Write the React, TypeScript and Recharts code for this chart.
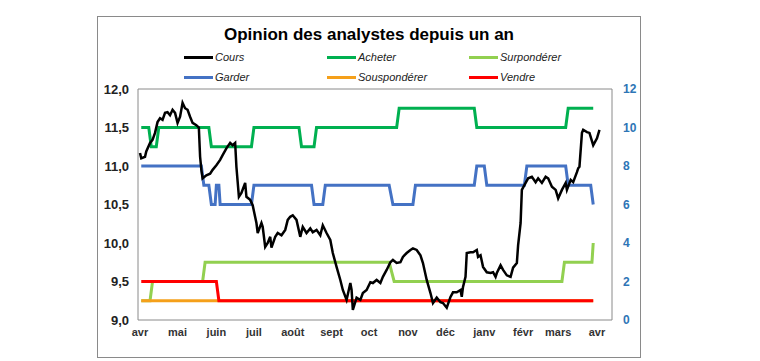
import React from 'react';
import { ComposedChart, Line, XAxis, YAxis, ReferenceArea } from 'recharts';

// day offsets from the first "avr" tick
const monthTicks = [0, 30, 61, 91, 122, 153, 183, 214, 244, 275, 306, 334, 365];
const monthLabels = ['avr', 'mai', 'juin', 'juil', 'août', 'sept', 'oct', 'nov', 'déc', 'janv', 'févr', 'mars', 'avr'];

const priceTicks = [9, 9.5, 10, 10.5, 11, 11.5, 12];
const countTicks = [0, 2, 4, 6, 8, 10, 12];

// Cours : [day, price]
const cours: [number, number][] = [
  [0, 11.17], [1, 11.1], [4, 11.12], [5, 11.19], [8, 11.3], [10, 11.34], [12, 11.43], [14, 11.57],
  [16, 11.62], [18, 11.6], [20, 11.69], [22, 11.7], [24, 11.66], [26, 11.73], [28, 11.69], [30, 11.56],
  [32, 11.64], [34, 11.82], [36, 11.75], [38, 11.73], [40, 11.64], [42, 11.56], [45, 11.53], [47, 11.5],
  [48, 11.12], [49, 10.95], [50, 10.84], [53, 10.88], [56, 10.9], [58, 10.95], [61, 11.01], [64, 11.08],
  [66, 11.14], [69, 11.23], [72, 11.3], [74, 11.27], [76, 11.3], [77, 10.99], [79, 10.6], [81, 10.65],
  [84, 10.78], [85, 10.6], [88, 10.56], [90, 10.49], [93, 10.26], [94, 10.13], [97, 10.26], [98, 10.21],
  [100, 9.95], [102, 10.0], [104, 10.08], [105, 9.94], [108, 10.08], [110, 10.13], [113, 10.1], [116, 10.17],
  [118, 10.3], [120, 10.34], [122, 10.36], [125, 10.3], [128, 10.08], [130, 10.21], [133, 10.13], [136, 10.19],
  [138, 10.14], [141, 10.17], [144, 10.1], [146, 10.23], [149, 10.13], [152, 10.04], [154, 9.87], [157, 9.69],
  [160, 9.52], [162, 9.39], [165, 9.26], [168, 9.48], [169, 9.39], [170, 9.13], [173, 9.29], [176, 9.26],
  [178, 9.35], [181, 9.39], [184, 9.49], [186, 9.48], [189, 9.52], [192, 9.48], [194, 9.56], [197, 9.65],
  [200, 9.75], [202, 9.78], [205, 9.74], [208, 9.75], [210, 9.82], [213, 9.87], [216, 9.91], [218, 9.93],
  [221, 9.91], [224, 9.84], [226, 9.74], [229, 9.52], [232, 9.35], [234, 9.22], [237, 9.29], [240, 9.23],
  [242, 9.22], [245, 9.16], [248, 9.3], [250, 9.36], [253, 9.36], [256, 9.39], [257, 9.3], [258, 9.43],
  [260, 9.56], [261, 9.87], [264, 9.88], [266, 9.88], [269, 9.91], [270, 9.82], [272, 9.84], [274, 9.69],
  [277, 9.62], [280, 9.61], [282, 9.62], [284, 9.56], [285, 9.61], [288, 9.71], [290, 9.65], [293, 9.58],
  [296, 9.56], [298, 9.68], [301, 9.74], [302, 9.97], [304, 10.26], [305, 10.69], [308, 10.78], [310, 10.84],
  [313, 10.86], [316, 10.79], [318, 10.84], [321, 10.78], [324, 10.86], [326, 10.84], [329, 10.73], [332, 10.69],
  [334, 10.58], [337, 10.69], [340, 10.78], [341, 10.69], [344, 10.82], [346, 10.79], [349, 10.92], [350, 10.97],
  [351, 10.99], [353, 11.43], [354, 11.47], [357, 11.44], [359, 11.43], [362, 11.27], [365, 11.36], [367, 11.47],
];

// analyst counts : [day, count]
const acheter: [number, number][] = [
  [1, 10], [7, 10], [9, 9], [13, 9], [15, 10], [55, 10], [57, 9], [89, 9], [91, 10], [127, 10], [129, 9],
  [139, 9], [141, 10], [205, 10], [207, 11], [267, 11], [269, 10], [340, 10], [342, 11], [362, 11],
];
const surponderer: [number, number][] = [
  [1, 1], [8, 1], [10, 2], [50, 2], [52, 3], [199, 3], [203, 2], [337, 2], [339, 3], [361, 3], [362, 4],
];
const garder: [number, number][] = [
  [1, 8], [49, 8], [51, 7], [55, 7], [57, 6], [60, 6], [61, 7], [63, 7], [64, 6], [89, 6], [91, 7],
  [137, 7], [139, 6], [146, 6], [148, 7], [199, 7], [202, 6], [218, 6], [220, 7], [267, 7], [269, 8],
  [275, 8], [277, 7], [307, 7], [309, 8], [340, 8], [342, 7], [360, 7], [362, 6],
];
const sousponderer: [number, number][] = [[1, 1], [362, 1]];
const vendre: [number, number][] = [[1, 2], [61, 2], [63, 1], [362, 1]];

const toRows = (pts: [number, number][]) => pts.map(([d, v]) => ({ d, v }));

const xDomain: [number, number] = [-1.6, 377];

const legendItems = [
  { name: 'Cours', color: '#000000' },
  { name: 'Acheter', color: '#00B050' },
  { name: 'Surpondérer', color: '#92D050' },
  { name: 'Garder', color: '#4472C4' },
  { name: 'Souspondérer', color: '#F5A01A' },
  { name: 'Vendre', color: '#FF0000' },
];

const font = '"Liberation Sans", Arial, sans-serif';

export default function App() {
  return (
    <div style={{ position: 'absolute', left: 0, top: 0, width: 760, height: 361, background: '#fff', fontFamily: font }}>
      <div style={{ position: 'absolute', left: 97, top: 16, width: 542, height: 340, border: '1px solid #8a8a8a' }} />
      <div style={{ position: 'absolute', left: 97, top: 25, width: 544, textAlign: 'center', fontWeight: 'bold', fontSize: 17, color: '#000' }}>
        Opinion des analystes depuis un an
      </div>
      <div style={{ position: 'absolute', left: 184, top: 49, display: 'grid', gridTemplateColumns: '143px 142px 142px', rowGap: 4 }}>
        {legendItems.map((it) => (
          <div key={it.name} style={{ display: 'flex', alignItems: 'center', height: 16, fontSize: 11, fontStyle: 'italic', color: '#222' }}>
            <span style={{ display: 'inline-block', width: 29, height: 3, background: it.color, marginRight: 2 }} />
            {it.name}
          </div>
        ))}
      </div>
      <ComposedChart width={760} height={361} margin={{ top: 89, right: 118, bottom: 11, left: 98 }} style={{ position: 'absolute', left: 0, top: 0 }}>
        <XAxis
          dataKey="d"
          type="number"
          domain={xDomain}
          ticks={monthTicks}
          tickFormatter={(v: number) => monthLabels[monthTicks.indexOf(v)]}
          axisLine={false}
          tickLine={false}
          tickSize={0}
          tickMargin={8}
          height={30}
          allowDataOverflow
          interval={0}
          tick={{ fontSize: 11, fontWeight: 'bold', fill: '#333', fontFamily: font }}
        />
        <YAxis
          yAxisId="left"
          domain={[9, 12]}
          ticks={priceTicks}
          tickFormatter={(v: number) => v.toFixed(1).replace('.', ',')}
          axisLine={false}
          tickLine={false}
          tickSize={0}
          tickMargin={9}
          width={40}
          interval={0}
          tick={{ fontSize: 13, fontWeight: 'bold', fill: '#222', fontFamily: font }}
        />
        <YAxis
          yAxisId="right"
          orientation="right"
          domain={[0, 12]}
          ticks={countTicks}
          axisLine={false}
          tickLine={false}
          tickSize={0}
          tickMargin={11}
          width={30}
          interval={0}
          tick={{ fontSize: 12, fontWeight: 'bold', fill: '#2E75B6', fontFamily: font }}
        />
        <ReferenceArea yAxisId="left" x1={xDomain[0]} x2={xDomain[1]} y1={9} y2={12} fill="none" stroke="#8a8a8a" strokeWidth={1} />
        <Line yAxisId="right" data={toRows(acheter)} dataKey="v" type="linear" stroke="#00B050" strokeWidth={3} dot={false} isAnimationActive={false} />
        <Line yAxisId="right" data={toRows(surponderer)} dataKey="v" type="linear" stroke="#92D050" strokeWidth={3} dot={false} isAnimationActive={false} />
        <Line yAxisId="right" data={toRows(garder)} dataKey="v" type="linear" stroke="#4472C4" strokeWidth={3} dot={false} isAnimationActive={false} />
        <Line yAxisId="right" data={toRows(sousponderer)} dataKey="v" type="linear" stroke="#F5A01A" strokeWidth={3} dot={false} isAnimationActive={false} />
        <Line yAxisId="right" data={toRows(vendre)} dataKey="v" type="linear" stroke="#FF0000" strokeWidth={3} dot={false} isAnimationActive={false} />
        <Line yAxisId="left" data={toRows(cours)} dataKey="v" type="linear" stroke="#000000" strokeWidth={2.5} dot={false} isAnimationActive={false} />
      </ComposedChart>
    </div>
  );
}
